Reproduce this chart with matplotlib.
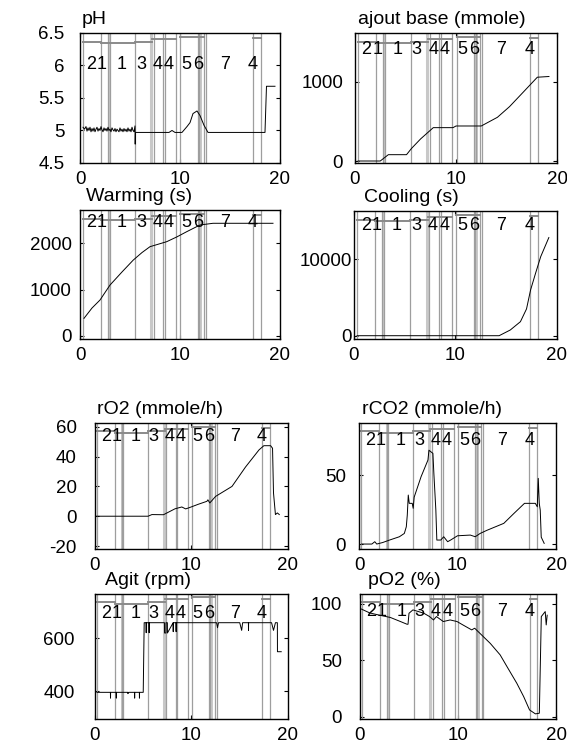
import matplotlib.pyplot as plt
import matplotlib.transforms as mtransforms

plt.rcParams["font.family"] = ["Liberation Sans", "DejaVu Sans"]
plt.rcParams["axes.unicode_minus"] = False

# phase boundaries (time) and phase labels
phase_t = [0.25, 2.05, 2.8, 2.95, 5.5, 7.4, 8.35, 8.55, 9.65, 10.05,
           11.8, 11.95, 12.4, 12.6, 17.3, 18.1]
phase_t_wide = [2.85, 7.15, 12.0]
phase_lbl = ["2", "1", "1", "3", "4", "4", "5", "6", "7", "4"]
phase_lbl_t = [1.15, 2.2, 4.2, 6.1, 7.75, 8.9, 10.65, 11.8, 14.5, 17.3]
# top step indicator: start, end, level (axes fraction)
step_t0 = [0.25, 2.05, 5.5, 7.25, 10.05, 17.3]
step_t1 = [2.05, 5.5, 7.25, 9.65, 12.4, 18.1]
step_lvl = [0.933, 0.92, 0.933, 0.956, 0.972, 0.959]

# pH
ph_t = [0.3, 0.45, 0.6, 0.7, 0.8, 0.9, 1.0, 1.1, 1.2, 1.3, 1.4, 1.5, 1.6, 1.7,
        1.8, 1.9, 2.0, 2.1, 2.2, 2.3, 2.4, 2.5, 2.6, 2.7, 2.8, 2.9, 3.0, 3.1,
        3.2, 3.3, 3.4, 3.5, 3.6, 3.7, 3.8, 3.9, 4.0, 4.1, 4.2, 4.3, 4.4, 4.5,
        4.6, 4.7, 4.8, 4.9, 5.0, 5.1, 5.2, 5.3, 5.4, 5.5, 5.52, 5.55, 8.9,
        9.2, 9.5, 10.2, 10.7, 11.0, 11.3, 11.7, 12.0, 12.4, 12.8, 18.5, 18.65,
        19.5]
ph_v = [5.05, 5.02, 5.06, 4.99, 5.04, 5.0, 5.05, 4.98, 5.03, 4.99, 5.04, 4.98,
        5.02, 5.05, 4.99, 5.03, 5.0, 5.06, 5.01, 4.98, 5.04, 5.0, 5.03, 4.99,
        5.05, 5.0, 5.02, 4.98, 5.04, 5.01, 4.99, 5.03, 4.98, 5.02, 5.0, 4.98,
        5.04, 4.99, 5.02, 4.98, 5.03, 4.99, 5.02, 4.98, 5.04, 4.99, 5.02, 4.98,
        5.05, 5.0, 4.98, 5.07, 4.79, 4.97, 4.97, 5.0, 4.97, 4.97, 5.06, 5.12,
        5.26, 5.3, 5.23, 5.08, 4.97, 4.97, 5.68, 5.68]

# ajout base (mmole)
base_t = [0.3, 2.5, 3.3, 5.1, 5.6, 6.5, 7.75, 9.7, 10.0, 12.5, 14.1, 15.3,
          16.7, 18.05, 19.2]
base_v = [0, 0, 80, 80, 160, 280, 422, 422, 443, 443, 553, 688, 877, 1060,
          1069]

# Warming (s)
warm_t = [0.4, 1.2, 2.0, 3.0, 4.2, 5.33, 6.2, 7.0, 8.67, 9.7, 10.67, 12.0,
          13.3, 19.3]
warm_v = [377, 600, 773, 1097, 1380, 1638, 1800, 1927, 2035, 2140, 2251, 2396,
          2433, 2433]

# Cooling (s)
cool_t = [0.3, 14.3, 15.4, 16.4, 17.0, 17.4, 17.9, 18.4, 19.2]
cool_v = [0, 0, 746, 1833, 3500, 5980, 8200, 10340, 12830]

# rO2 (mmole/h)
ro2_t = [0.0, 5.5, 5.9, 7.1, 8.3, 9.0, 9.4, 9.8, 10.7, 11.6, 11.7, 11.9, 12.5,
         14.2, 15.6, 17.0, 17.5, 18.2, 18.4, 18.5, 18.7, 18.9, 19.1]
ro2_v = [0, 0, 1.1, 1.0, 5.0, 6.2, 4.9, 5.8, 8.0, 10.0, 11.0, 8.9, 13.3, 20.0,
         33.0, 44.5, 47.3, 47.3, 45.6, 15.6, 1.1, 2.2, 1.1]

# rCO2 (mmole/h)
rco2_t = [0.27, 1.3, 1.6, 1.8, 2.4, 3.1, 4.1, 4.6, 4.8, 4.9, 5.0, 5.1, 5.4,
          5.5, 5.6, 6.3, 7.0, 7.1, 7.5, 7.6, 7.8, 7.9, 8.3, 8.6, 9.0, 9.3,
          10.0, 11.3, 11.8, 12.3, 13.0, 14.7, 15.7, 16.8, 17.9, 18.1, 18.2,
          18.3, 18.4, 18.5, 18.8]
rco2_v = [0, 0, 1.7, 0, 1.1, 2.9, 5.3, 7.7, 12.5, 21, 35.5, 29.5, 29.5, 25.9,
          34, 48.8, 60.9, 68, 65.7, 51, 24.6, 2.9, 2.9, 5.3, 1.7, 2.9, 6.0,
          6.5, 5.3, 7.7, 10, 15, 22, 29.5, 29.5, 27, 47.6, 29.5, 24.6, 5.0, 0.5]

# Agit (rpm)
agit_t = [0.2, 1.6, 1.61, 1.62, 2.2, 2.21, 2.22, 3.4, 3.41, 3.5, 4.1, 4.11,
          4.12, 4.6, 4.61, 4.62, 5.0, 5.1, 5.3, 5.31, 5.32, 5.6, 5.61, 5.62,
          7.2, 7.21, 7.35, 7.36, 7.5, 7.51, 8.1, 8.11, 8.12, 8.4, 8.41, 8.42,
          12.6, 12.7, 12.8, 15.0, 15.2, 15.3, 15.9, 15.91, 15.92, 18.3, 18.5,
          18.7, 18.9, 18.91, 19.3]
agit_v = [395, 395, 373, 395, 395, 373, 395, 395, 390, 395, 395, 373, 395, 395,
          373, 395, 395, 659, 659, 621, 659, 659, 621, 659, 659, 620, 620, 659,
          659, 620, 659, 625, 659, 659, 625, 659, 659, 640, 659, 659, 630, 659,
          659, 630, 659, 659, 630, 659, 659, 549, 549]

# pO2 (%)
po2_t = [0.0, 1.0, 2.0, 3.1, 4.1, 4.8, 4.9, 5.0, 5.4, 6.5, 7.1, 7.5, 7.8, 8.5,
         9.2, 9.9, 10.5, 11.4, 11.7, 12.4, 13.3, 14.3, 15.0, 16.0, 16.7, 17.3,
         17.9, 18.3, 18.5, 18.9, 19.0, 19.1]
po2_v = [96, 92, 90, 88, 84.5, 82, 82, 91.7, 94.7, 91.8, 88.8, 85.8, 88.8,
         84.4, 85.8, 84.4, 81.4, 77, 78.5, 72.6, 65, 54.9, 44.5, 29.8, 18, 6.2,
         2.7, 3.3, 88.8, 93.2, 81.4, 90]

panels = [
    ("pH", ph_t, ph_v, (4.5, 6.5), [4.5, 5, 5.5, 6, 6.5],
     ["4.5", "5", "5.5", "6", "6.5"]),
    ("ajout base (mmole)", base_t, base_v, (-25, 1620), [0, 1000], None),
    ("Warming (s)", warm_t, warm_v, (-70, 2720), [0, 1000, 2000], None),
    ("Cooling (s)", cool_t, cool_v, (-430, 16300), [0, 10000], None),
    ("rO2 (mmole/h)", ro2_t, ro2_v, (-22, 62.5), [-20, 0, 20, 40, 60], None),
    ("rCO2 (mmole/h)", rco2_t, rco2_v, (-3.6, 87.7), [0, 50], None),
    ("Agit (rpm)", agit_t, agit_v, (294, 768), [400, 600], None),
    ("pO2 (%)", po2_t, po2_v, (-1.8, 108.8), [0, 50, 100], None),
]

positions = [
    (0.1411, 0.7824, 0.3527, 0.1736),
    (0.6261, 0.7824, 0.3563, 0.1736),
    (0.1411, 0.5474, 0.3527, 0.1722),
    (0.6243, 0.5474, 0.3580, 0.1709),
    (0.1675, 0.2670, 0.3404, 0.1682),
    (0.6332, 0.2670, 0.3474, 0.1682),
    (0.1675, 0.0401, 0.3404, 0.1669),
    (0.6349, 0.0401, 0.3457, 0.1669),
]
ypads = [11, 8.6, 5.8, 1.5, 13, 9.4, 14.4, 13]
lbl_y = [0.755, 0.87, 0.90, 0.89, 0.89, 0.865, 0.845, 0.86]
title_x = [0.01, 0.015, 0.03, 0.05, 0.01, 0.015, 0.05, 0.04]

fig = plt.figure(figsize=(5.67, 7.49), dpi=100)

for i, (title, t, v, ylim, yt, ytl) in enumerate(panels):
    ax = fig.add_axes(positions[i])
    trans = mtransforms.blended_transform_factory(ax.transData, ax.transAxes)
    for x in phase_t_wide:
        ax.plot([x, x], [0, 1], color="#c8c8c8", lw=2.2, transform=trans,
                zorder=1)
    for x in phase_t:
        ax.plot([x, x], [0, 1], color="#9e9e9e", lw=0.9, transform=trans,
                zorder=2)
    for x0, x1, lv in zip(step_t0, step_t1, step_lvl):
        ax.plot([x0, x1], [lv, lv], color="#8a8a8a", lw=1.4, transform=trans,
                zorder=2)
    for lab, x in zip(phase_lbl, phase_lbl_t):
        ax.text(x, lbl_y[i], lab, transform=trans, ha="center", va="center",
                fontsize=13, zorder=4)
    ax.plot(t, v, color="black", lw=0.7, zorder=3)
    ax.set_xlim(0, 20)
    ax.set_ylim(*ylim)
    ax.set_xticks([0, 10, 20])
    ax.set_yticks(yt)
    if ytl is not None:
        ax.set_yticklabels(ytl)
    ax.tick_params(direction="in", length=3, width=0.8, labelsize=13.5,
                   top=True, right=True)
    ax.tick_params(axis="x", pad=6)
    ax.tick_params(axis="y", pad=ypads[i])
    for s in ax.spines.values():
        s.set_linewidth(1.0)
    ax.text(title_x[i], 1.04, title, transform=ax.transAxes, ha="left",
            va="bottom", fontsize=14)

fig.savefig("out.png", dpi=100)
